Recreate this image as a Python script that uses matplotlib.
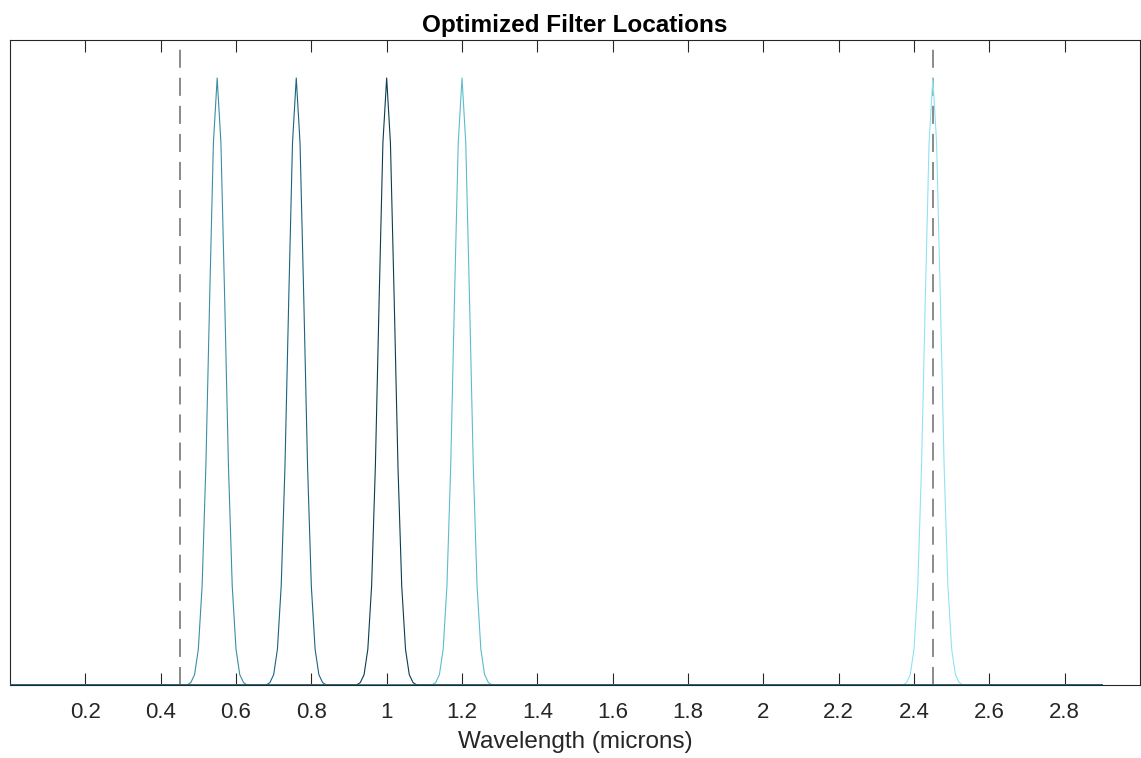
import numpy as np
import matplotlib.pyplot as plt

plt.rcParams['font.family'] = ['Liberation Sans', 'DejaVu Sans']
plt.rcParams['lines.scale_dashes'] = False

# filter centres (microns) and their colours
centers = [2.45, 1.2, 0.55, 1.0, 0.76]
colors = ['#8ee3f0', '#5bbdcc', '#3b8fa3', '#0b3d4f', '#1b6580']
guides = [0.45, 2.45]  # dashed guide lines

offsets = [-0.07, -0.06, -0.05, -0.04, -0.03, -0.02, -0.01, 0.0,
           0.01, 0.02, 0.03, 0.04, 0.05, 0.06, 0.07]
profile = [0.004, 0.017, 0.059, 0.163, 0.36, 0.635, 0.893, 1.0,
           0.893, 0.635, 0.36, 0.163, 0.059, 0.017, 0.004]

wl = np.round(np.arange(0, 2.9001, 0.01), 2)
ticks = [0.2, 0.4, 0.6, 0.8, 1.0, 1.2, 1.4, 1.6, 1.8, 2.0, 2.2, 2.4, 2.6, 2.8]
tick_labels = ['0.2', '0.4', '0.6', '0.8', '1', '1.2', '1.4', '1.6', '1.8',
               '2', '2.2', '2.4', '2.6', '2.8']

fig = plt.figure(figsize=(11.41, 7.58), dpi=100)
ax = fig.add_axes([10 / 1141, 1 - 685 / 758, 1130 / 1141, 645 / 758])

for c, col in zip(centers, colors):
    resp = np.interp(wl, np.round(np.array(offsets) + c, 2), profile, left=0, right=0)
    ax.plot(wl, resp, color=col, lw=0.8, zorder=3)

for g in guides:
    ax.axvline(g, color='#8a8a8a', lw=1.4, dashes=(13, 7.2), zorder=2)

ax.set_xlim(0, 3)
ax.set_ylim(0, 1.0626)
ax.set_xticks(ticks)
ax.set_xticklabels(tick_labels)
ax.set_yticks([])
ax.tick_params(axis='x', direction='in', length=8.5, width=0.8, color='#262626',
               labelcolor='#262626', labelsize=16, pad=12, top=True)
for s in ax.spines.values():
    s.set_color('#262626')
    s.set_linewidth(0.8)

ax.set_xlabel('Wavelength (microns)', fontsize=17.5, color='#262626', labelpad=6)
ax.set_title('Optimized Filter Locations', fontsize=17.5, fontweight='bold', pad=6)

fig.savefig('out.png', dpi=100)
